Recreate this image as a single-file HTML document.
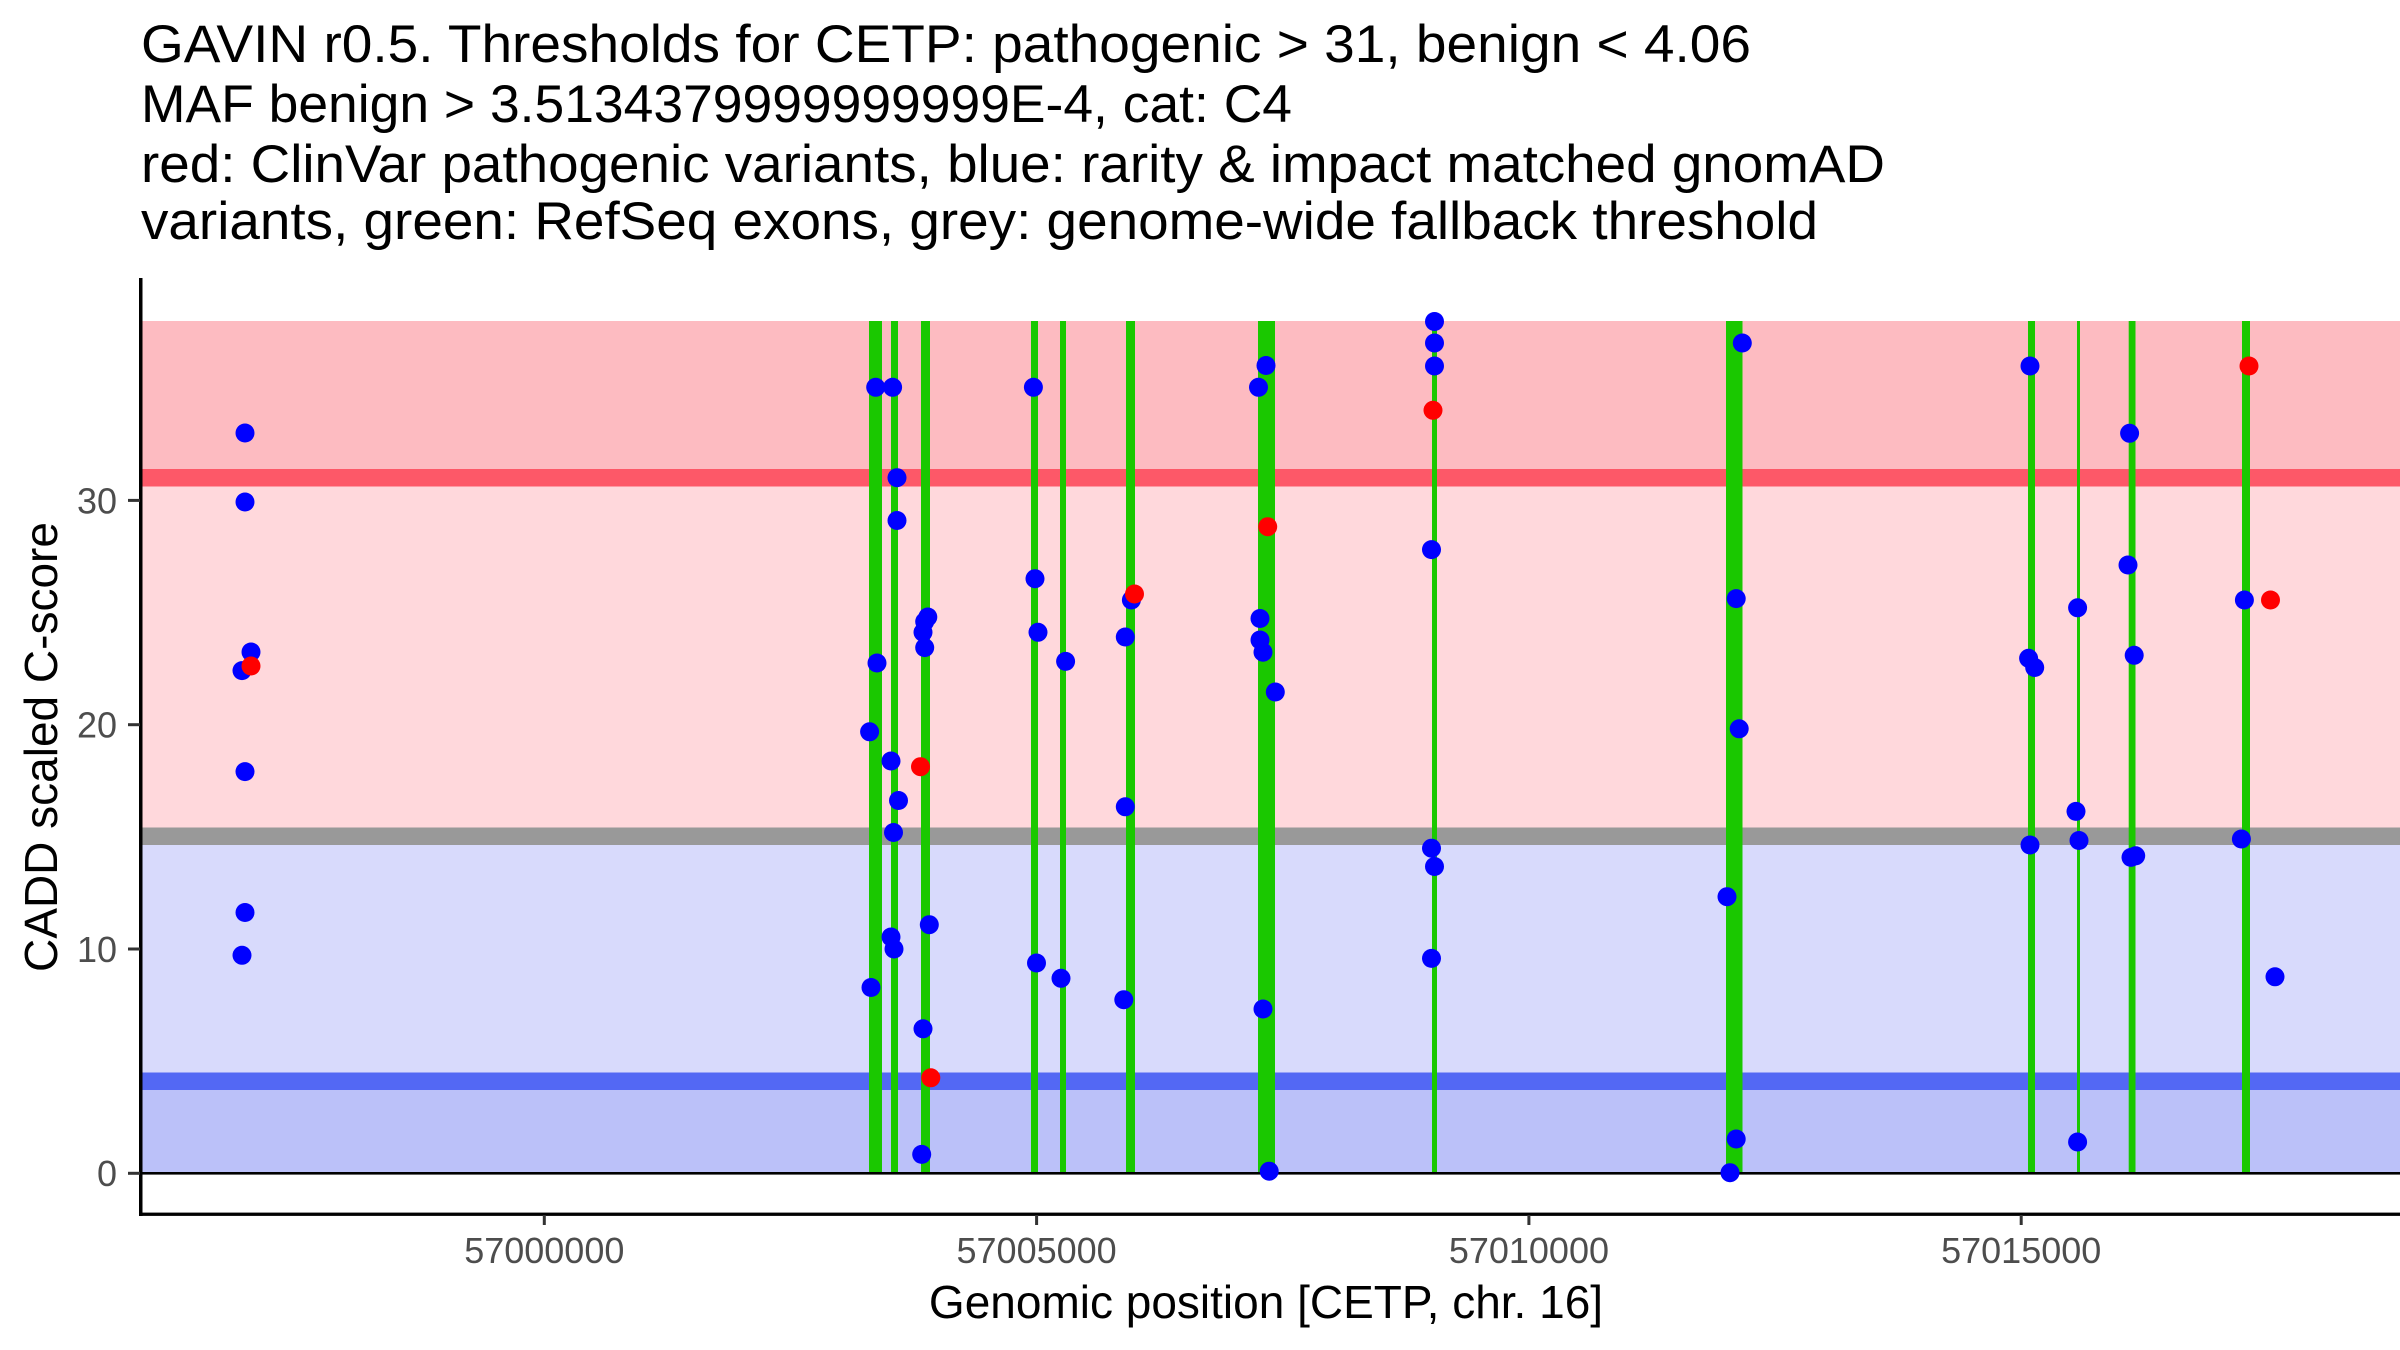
<!DOCTYPE html>
<html>
<head>
<meta charset="utf-8">
<style>
  html,body{margin:0;padding:0;background:#fff;}
  svg{display:block;}
  text{font-family:"Liberation Sans", Arial, sans-serif;}
</style>
</head>
<body>
<svg width="2400" height="1350" viewBox="0 0 2400 1350" xmlns="http://www.w3.org/2000/svg">
  <rect x="0" y="0" width="2400" height="1350" fill="#ffffff"/>

  <!-- Title -->
  <g font-size="53" fill="#000">
    <text x="141" y="62" textLength="1610" lengthAdjust="spacingAndGlyphs">GAVIN r0.5. Thresholds for CETP: pathogenic &gt; 31, benign &lt; 4.06</text>
    <text x="141" y="122" textLength="1151" lengthAdjust="spacingAndGlyphs">MAF benign &gt; 3.5134379999999999E-4, cat: C4</text>
    <text x="141" y="182" textLength="1744" lengthAdjust="spacingAndGlyphs">red: ClinVar pathogenic variants, blue: rarity &amp; impact matched gnomAD</text>
    <text x="141" y="239" textLength="1677" lengthAdjust="spacingAndGlyphs">variants, green: RefSeq exons, grey: genome-wide fallback threshold</text>
  </g>

  <!-- Bands -->
  <rect x="142" y="321" width="2258" height="150" fill="#FDBBC1"/>
  <rect x="142" y="485" width="2258" height="344" fill="#FFD8DC"/>
  <rect x="142" y="843" width="2258" height="231" fill="#D8DAFC"/>
  <rect x="142" y="1089" width="2258" height="84" fill="#BBC1F9"/>
  <!-- threshold lines -->
  <rect x="142" y="469" width="2258" height="17.5" fill="#FD5868"/>
  <rect x="142" y="827.5" width="2258" height="17.5" fill="#999999"/>
  <rect x="142" y="1072.5" width="2258" height="17.5" fill="#5368F4"/>

  <!-- Exon lines -->
  <g fill="#1AC800">
    <rect x="869" y="321" width="13" height="852"/>
    <rect x="891" y="321" width="7" height="852"/>
    <rect x="921" y="321" width="9" height="852"/>
    <rect x="1031" y="321" width="7" height="852"/>
    <rect x="1060" y="321" width="6" height="852"/>
    <rect x="1126" y="321" width="9" height="852"/>
    <rect x="1258" y="321" width="17" height="852"/>
    <rect x="1432" y="321" width="5" height="852"/>
    <rect x="1726" y="321" width="16.5" height="852"/>
    <rect x="2028" y="321" width="7" height="852"/>
    <rect x="2077" y="321" width="3" height="852"/>
    <rect x="2128.7" y="321" width="6.8" height="852"/>
    <rect x="2242" y="321" width="8" height="852"/>
  </g>

  <!-- zero line -->
  <rect x="141" y="1172" width="2259" height="2.6" fill="#000"/>

  <!-- Blue points -->
  <g fill="#0000FF">
    <circle cx="245" cy="433" r="9.5"/>
    <circle cx="245" cy="502" r="9.5"/>
    <circle cx="251" cy="652" r="9.5"/>
    <circle cx="242" cy="670.6" r="9.5"/>
    <circle cx="245" cy="771.6" r="9.5"/>
    <circle cx="245" cy="912.5" r="9.5"/>
    <circle cx="242" cy="955.3" r="9.5"/>

    <circle cx="875.7" cy="387.3" r="9.5"/>
    <circle cx="892.6" cy="387.3" r="9.5"/>
    <circle cx="897" cy="477.7" r="9.5"/>
    <circle cx="897" cy="520.5" r="9.5"/>
    <circle cx="877" cy="663" r="9.5"/>
    <circle cx="869.6" cy="731.8" r="9.5"/>
    <circle cx="891" cy="761" r="9.5"/>
    <circle cx="898.5" cy="800.5" r="9.5"/>
    <circle cx="893.5" cy="832.5" r="9.5"/>
    <circle cx="891" cy="937" r="9.5"/>
    <circle cx="894" cy="949" r="9.5"/>
    <circle cx="871" cy="987.5" r="9.5"/>
    <circle cx="924.7" cy="621.6" r="9.5"/>
    <circle cx="927.8" cy="617" r="9.5"/>
    <circle cx="923" cy="632.3" r="9.5"/>
    <circle cx="924.7" cy="647.6" r="9.5"/>
    <circle cx="929.3" cy="924.7" r="9.5"/>
    <circle cx="923" cy="1028.8" r="9.5"/>
    <circle cx="921.7" cy="1154.4" r="9.5"/>

    <circle cx="1033.4" cy="387.3" r="9.5"/>
    <circle cx="1035" cy="578.7" r="9.5"/>
    <circle cx="1038" cy="632.3" r="9.5"/>
    <circle cx="1065.6" cy="661.4" r="9.5"/>
    <circle cx="1036.5" cy="963" r="9.5"/>
    <circle cx="1061" cy="978.3" r="9.5"/>

    <circle cx="1131.4" cy="600" r="9.5"/>
    <circle cx="1125.3" cy="637" r="9.5"/>
    <circle cx="1125.3" cy="806.8" r="9.5"/>
    <circle cx="1123.8" cy="999.7" r="9.5"/>

    <circle cx="1266" cy="365.5" r="9.5"/>
    <circle cx="1258.5" cy="387.3" r="9.5"/>
    <circle cx="1260" cy="618.5" r="9.5"/>
    <circle cx="1260" cy="640" r="9.5"/>
    <circle cx="1263" cy="652.2" r="9.5"/>
    <circle cx="1275.3" cy="692" r="9.5"/>
    <circle cx="1263" cy="1009" r="9.5"/>
    <circle cx="1269.2" cy="1171.2" r="9.5"/>

    <circle cx="1434.5" cy="321.5" r="9.5"/>
    <circle cx="1434.5" cy="343" r="9.5"/>
    <circle cx="1434.5" cy="366" r="9.5"/>
    <circle cx="1431.5" cy="549.6" r="9.5"/>
    <circle cx="1431.5" cy="848.2" r="9.5"/>
    <circle cx="1434.5" cy="866.5" r="9.5"/>
    <circle cx="1431.5" cy="958.4" r="9.5"/>

    <circle cx="1742.3" cy="343" r="9.5"/>
    <circle cx="1736.2" cy="598.6" r="9.5"/>
    <circle cx="1739.2" cy="728.8" r="9.5"/>
    <circle cx="1727" cy="896.7" r="9.5"/>
    <circle cx="1736.2" cy="1139" r="9.5"/>
    <circle cx="1730" cy="1172.7" r="9.5"/>

    <circle cx="2030" cy="366" r="9.5"/>
    <circle cx="2028.6" cy="658.3" r="9.5"/>
    <circle cx="2034.7" cy="667.5" r="9.5"/>
    <circle cx="2030" cy="845" r="9.5"/>
    <circle cx="2077.6" cy="607.8" r="9.5"/>
    <circle cx="2076" cy="811.4" r="9.5"/>
    <circle cx="2079" cy="840.5" r="9.5"/>
    <circle cx="2077.6" cy="1142" r="9.5"/>

    <circle cx="2129.6" cy="433.3" r="9.5"/>
    <circle cx="2128" cy="565" r="9.5"/>
    <circle cx="2134.2" cy="655.3" r="9.5"/>
    <circle cx="2131" cy="857.4" r="9.5"/>
    <circle cx="2135.7" cy="855.8" r="9.5"/>

    <circle cx="2244.4" cy="600" r="9.5"/>
    <circle cx="2241.4" cy="839" r="9.5"/>
    <circle cx="2275" cy="976.8" r="9.5"/>
  </g>

  <!-- Red points -->
  <g fill="#FF0000">
    <circle cx="251" cy="666" r="9.5"/>
    <circle cx="920.5" cy="766.7" r="9.5"/>
    <circle cx="930.8" cy="1077.8" r="9.5"/>
    <circle cx="1134.5" cy="594" r="9.5"/>
    <circle cx="1267.7" cy="526.7" r="9.5"/>
    <circle cx="1433" cy="410.3" r="9.5"/>
    <circle cx="2249" cy="366" r="9.5"/>
    <circle cx="2270.5" cy="600" r="9.5"/>
  </g>

  <!-- Axes -->
  <rect x="139" y="278" width="3.5" height="938" fill="#000"/>
  <rect x="139" y="1212.6" width="2261" height="3.3" fill="#000"/>

  <!-- Y ticks -->
  <g fill="#333333">
    <rect x="128" y="1171.8" width="12" height="3"/>
    <rect x="128" y="947.5" width="12" height="3"/>
    <rect x="128" y="723.2" width="12" height="3"/>
    <rect x="128" y="498.9" width="12" height="3"/>
  </g>
  <g font-size="36" fill="#4D4D4D" text-anchor="end">
    <text x="117" y="1186">0</text>
    <text x="117" y="962">10</text>
    <text x="117" y="737.5">20</text>
    <text x="117" y="513.5">30</text>
  </g>

  <!-- X ticks -->
  <g fill="#333333">
    <rect x="542.8" y="1215" width="3" height="10"/>
    <rect x="1035.1" y="1215" width="3" height="10"/>
    <rect x="1527.4" y="1215" width="3" height="10"/>
    <rect x="2019.7" y="1215" width="3" height="10"/>
  </g>
  <g font-size="36" fill="#4D4D4D" text-anchor="middle">
    <text x="544.3" y="1263">57000000</text>
    <text x="1036.6" y="1263">57005000</text>
    <text x="1528.9" y="1263">57010000</text>
    <text x="2021.2" y="1263">57015000</text>
  </g>

  <!-- Axis titles -->
  <text x="1266" y="1318" font-size="46" fill="#000" text-anchor="middle">Genomic position [CETP, chr. 16]</text>
  <text transform="translate(57,747) rotate(-90)" font-size="46" fill="#000" text-anchor="middle">CADD scaled C-score</text>
</svg>
</body>
</html>
